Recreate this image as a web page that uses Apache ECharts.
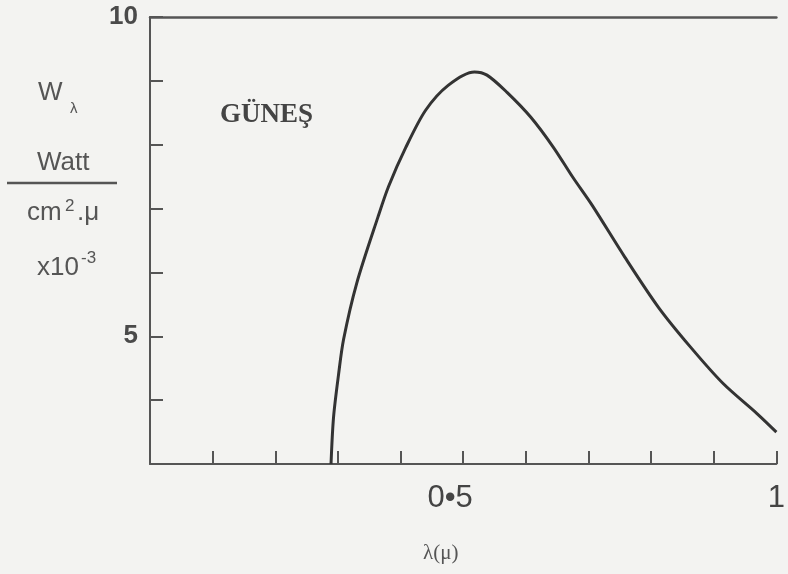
<!DOCTYPE html>
<html>
<head>
<meta charset="utf-8">
<script src="https://cdn.jsdelivr.net/npm/echarts@6/dist/echarts.min.js"></script>
<style>
  html, body { margin: 0; padding: 0; background: #f3f3f1; }
  #chart { width: 788px; height: 574px; }
</style>
</head>
<body>
<div id="chart"></div>
<script>
// Güneş spektrumu, W_lambda (Watt / cm2.mu x10^-3) - lambda (mu)
var lambdaVals = [0.289, 0.293, 0.301, 0.309, 0.330, 0.364, 0.381, 0.408, 0.440, 0.476,
                  0.518, 0.538, 0.570, 0.608, 0.644, 0.675, 0.706, 0.758, 0.812, 0.863,
                  0.915, 0.969, 1.0];
var wVals = [3.0, 3.73, 4.40, 4.95, 5.83, 6.87, 7.35, 7.95, 8.54, 8.93,
             9.14, 9.09, 8.82, 8.43, 7.96, 7.49, 7.05, 6.24, 5.45, 4.83,
             4.26, 3.79, 3.50];
var yTickLabels = [5, 10];
var xTickLabels = { 0.5: '0•5', 1: '1' };

var ink = '#555';
var sans = "'Liberation Sans', Arial, sans-serif";
var serif = "'Liberation Serif', 'DejaVu Serif', serif";

var points = [];
for (var i = 0; i < lambdaVals.length; ++i) {
    points.push([lambdaVals[i], wVals[i]]);
}

var chart = echarts.init(document.getElementById('chart'), null, {renderer: 'canvas'});

function txt(x, y, text, size, font, weight, color) {
    return {
        type: 'text', x: x, y: y,
        style: {
            text: text, fill: color || ink,
            font: (weight || 'normal') + ' ' + size + 'px ' + (font || sans),
            verticalAlign: 'middle'
        }
    };
}

var option = {
    backgroundColor: '#f3f3f1',
    animation: false,
    grid: { left: 150, right: 1, top: 17, bottom: 110, containLabel: false },
    xAxis: [{
        type: 'value', min: 0, max: 1, interval: 0.1, position: 'bottom',
        axisLine: { show: true, lineStyle: { color: ink, width: 2 } },
        axisTick: { show: true, inside: true, length: 13, lineStyle: { color: ink, width: 2 } },
        splitLine: { show: false },
        axisLabel: {
            show: true, showMinLabel: true, showMaxLabel: true, margin: 19,
            color: '#444', fontSize: 31, fontFamily: sans,
            formatter: function (v) {
                var k = Math.round(v * 10) / 10;
                if (k === 0.5) return '{a|' + xTickLabels[0.5] + '}';
                if (k === 1) return xTickLabels[1];
                return '';
            },
            rich: { a: { fontSize: 31, color: '#444', fontFamily: sans, padding: [0, 26, 0, 0] } }
        }
    }, {
        type: 'value', min: 0, max: 1, position: 'top',
        axisLine: { show: true, lineStyle: { color: ink, width: 2.5 } },
        axisTick: { show: false }, axisLabel: { show: false }, splitLine: { show: false }
    }],
    yAxis: {
        type: 'value', min: 3, max: 10, interval: 1,
        axisLine: { show: true, lineStyle: { color: ink, width: 2 } },
        axisTick: { show: true, inside: true, length: 13, lineStyle: { color: ink, width: 2 } },
        splitLine: { show: false },
        axisLabel: {
            margin: 12, color: '#4a4a4a', fontSize: 26, fontWeight: 'bold', fontFamily: sans,
            formatter: function (v) {
                return yTickLabels.indexOf(v) >= 0 ? String(v) : '';
            }
        }
    },
    series: [{
        type: 'line', xAxisIndex: 0, data: points,
        smooth: 0.3, showSymbol: false, clip: true,
        lineStyle: { color: '#333', width: 3 }
    }],
    graphic: [
        txt(38, 93, 'W', 26),
        txt(70, 109, 'λ', 15),
        txt(37, 163, 'Watt', 26),
        { type: 'line', shape: { x1: 7, y1: 183, x2: 117, y2: 183 },
          style: { stroke: ink, lineWidth: 2.5 } },
        txt(27, 213, 'cm', 26),
        txt(65, 206, '2', 17),
        txt(77, 213, '.μ', 26),
        txt(37, 268, 'x10', 26),
        txt(81, 258, '-3', 17),
        txt(220, 115, 'GÜNEŞ', 27, serif, 'bold', '#444'),
        txt(423, 553, 'λ(μ)', 21, serif, 'normal', '#555')
    ]
};
chart.setOption(option);
</script>
</body>
</html>
